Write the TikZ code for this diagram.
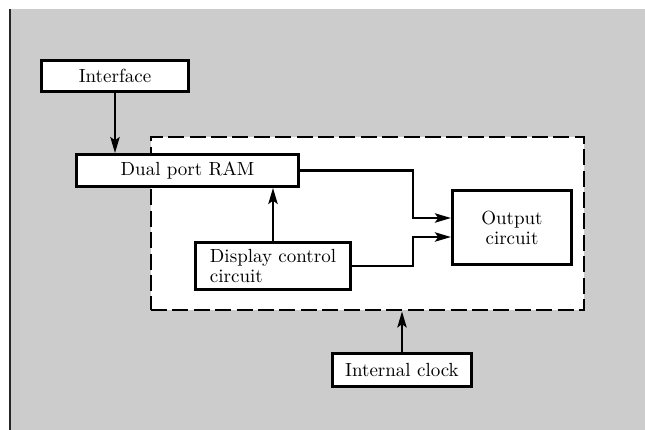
\documentclass[tikz,border=0pt]{standalone}
\usepackage{tikz}
\usetikzlibrary{arrows.meta,calc}

\begin{document}
\begin{tikzpicture}[x=0.5pt, y=-0.5pt,
  >={Stealth[length=8pt,width=4.6pt,inset=1.6pt]},
  block/.style={draw, fill=white, line width=1.35pt, inner sep=0pt,
    font=\fontsize{9.5}{10}\selectfont},
  frame/.style={draw, fill=white, line width=1.35pt,
    dash pattern=on 8pt off 2.7pt, inner sep=0pt},
  link/.style={->, line width=1.35pt}]
  \useasboundingbox (0,0) rectangle (645,430);

  % Draw the gray page
  \fill[black!20] (9,9) rectangle (645,430);
  \draw[line width=1pt, black!85] (10,9) -- (10,430);

  % Dashed controller frame
  \node[frame, minimum width=216.5pt, minimum height=86.5pt] (ctrl) at (367.5,223.5) {};

  % Blocks
  \node[block, minimum width=73.6pt, minimum height=15.6pt] (iface) at (115,76) {Interface};
  \node[block, minimum width=111pt, minimum height=16pt] (ram) at (187.5,170.5) {Dual port RAM};
  \node[block, align=left, minimum width=77.6pt, minimum height=23.6pt] (disp) at (273,266) {Display control\\circuit};
  \node[block, align=center, minimum width=59.6pt, minimum height=37pt] (out) at (512,227.5) {Output\\circuit};
  \node[block, minimum width=69.6pt, minimum height=16.6pt] (clock) at (402,370) {Internal clock};

  % Connections
  \draw[link] (iface.south) -- (iface.south |- ram.north);
  \draw[link] (disp.north) -- (disp.north |- ram.south);
  \draw[link] (ram.east) -| ($(out.west)+(-38,-9.5)$) -- ($(out.west)+(0,-9.5)$);
  \draw[link] (disp.east) -| ($(out.west)+(-38,9.5)$) -- ($(out.west)+(0,9.5)$);
  \draw[link] (clock.north) -- (clock.north |- ctrl.south);
\end{tikzpicture}
\end{document}
